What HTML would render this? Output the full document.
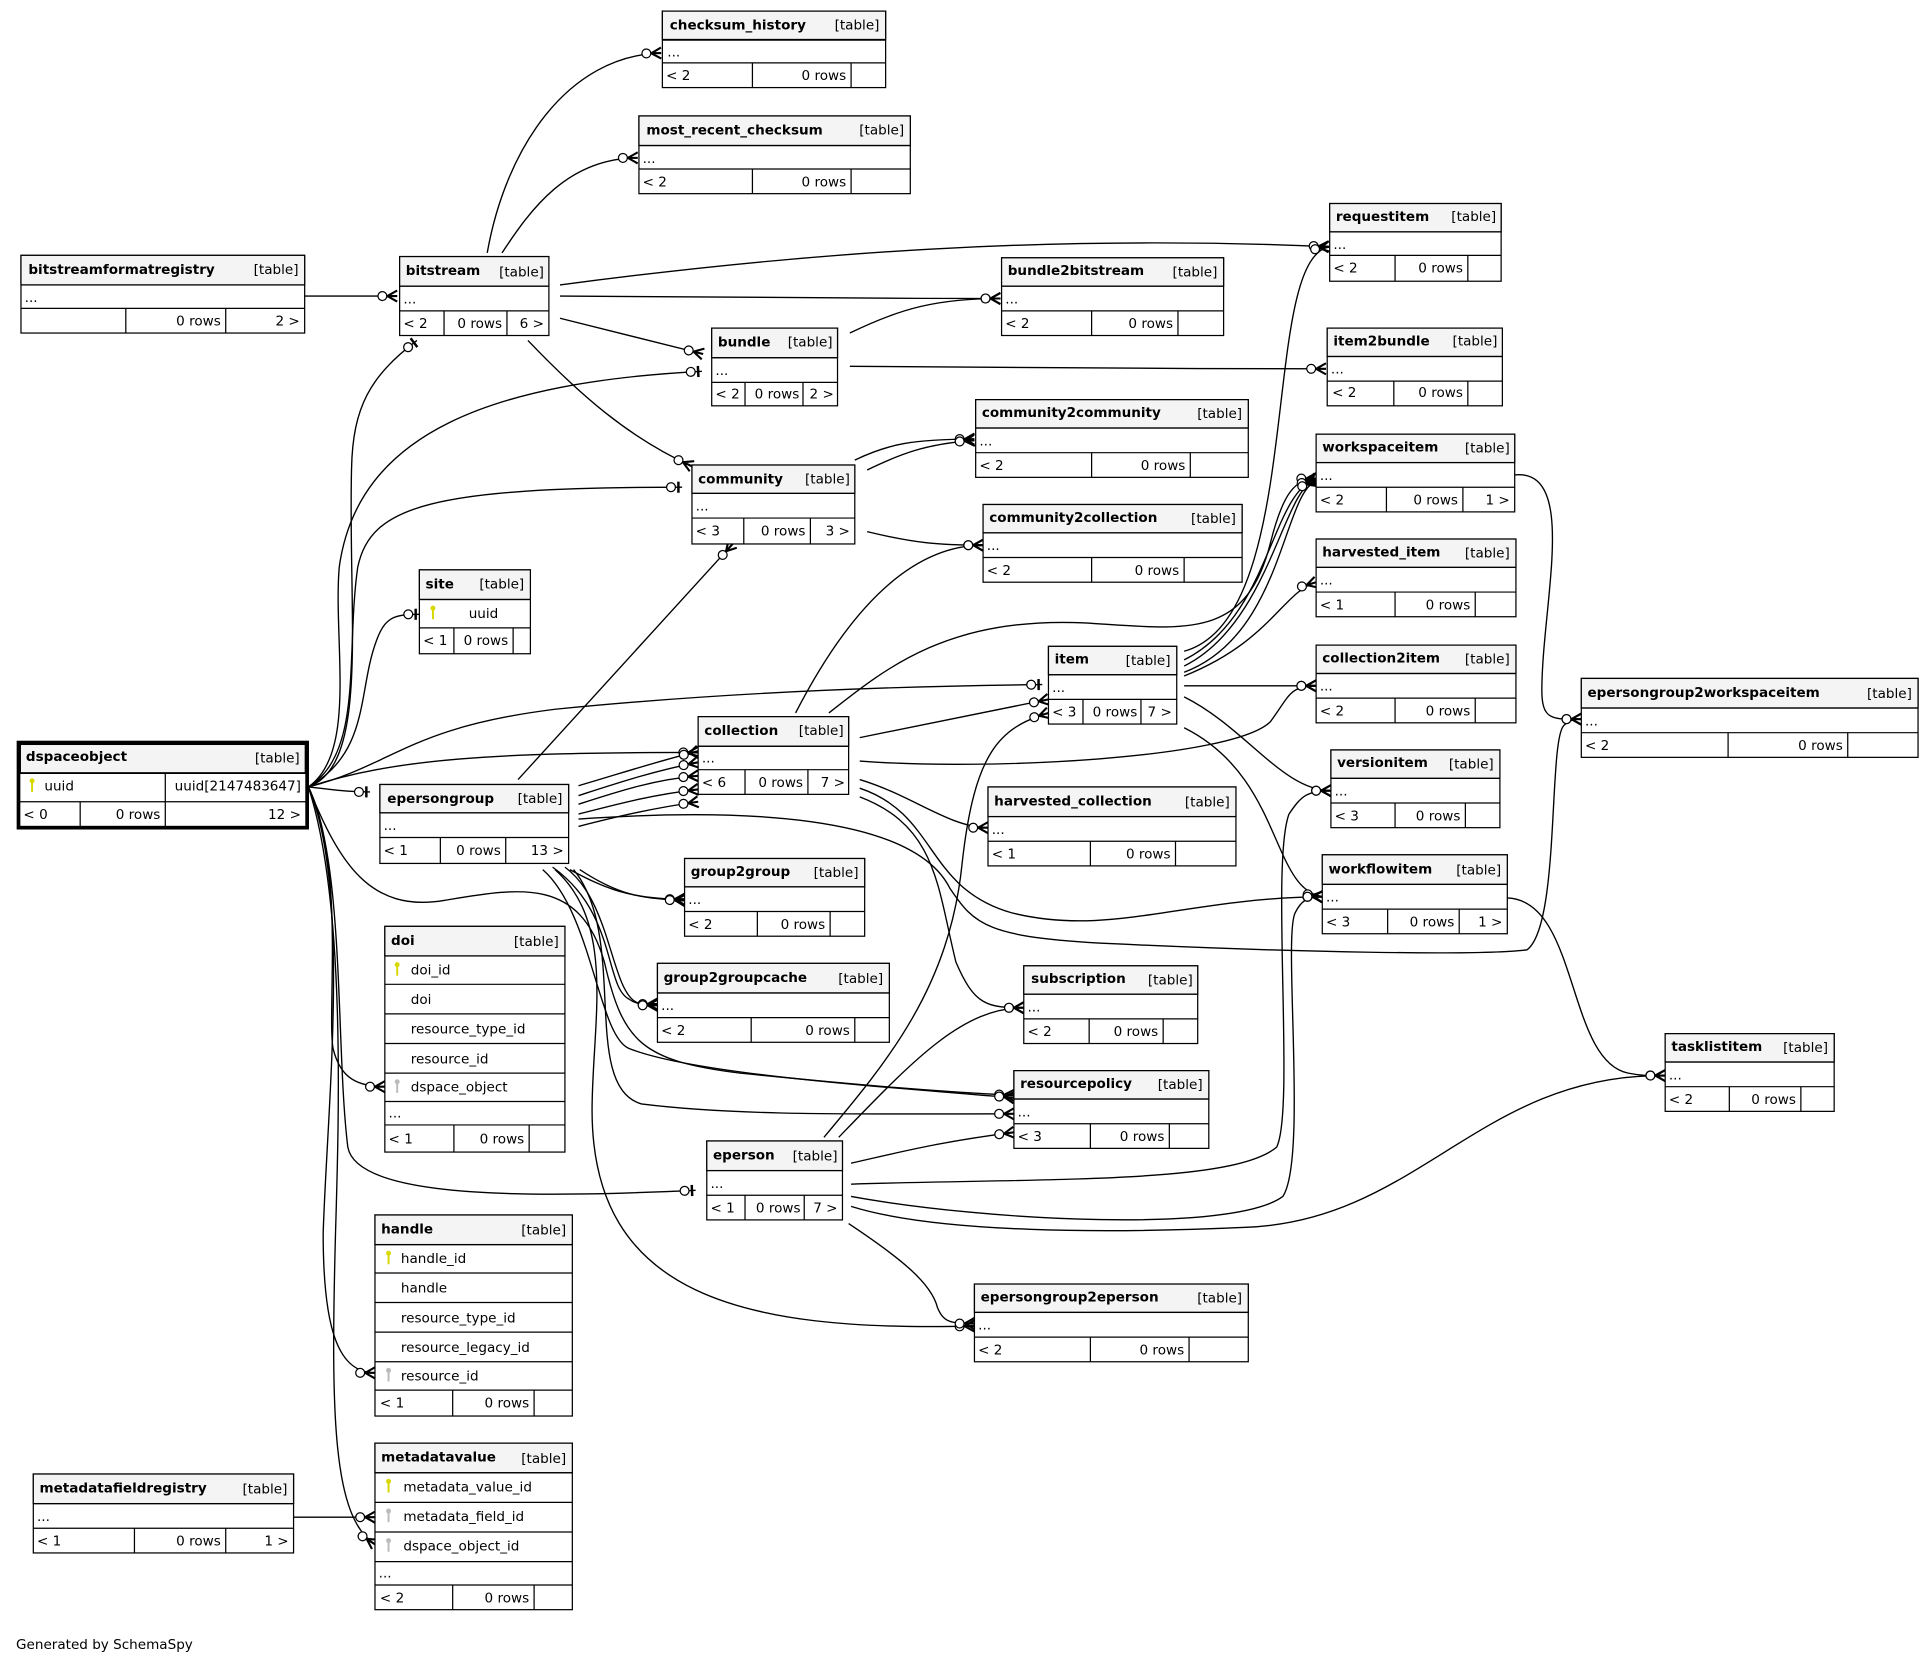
<!DOCTYPE html>
<html><head><meta charset="utf-8"><style>
html,body{margin:0;padding:0;background:#fff}
svg{display:block}
text{font-family:"DejaVu Sans","Liberation Sans",sans-serif;font-size:11px;fill:#000}
.t{font-weight:bold}
.b{fill:#fff;stroke:#000;stroke-width:1}
.h{fill:#f4f4f4;stroke:#000;stroke-width:1}
.l{fill:none;stroke:#000;stroke-width:1}
.e{fill:none;stroke:#000;stroke-width:1.1}
.m{marker-end:url(#mm)}
.o{marker-end:url(#oo)}
</style></head><body>
<svg width="1931" height="1661" viewBox="0 0 1565.5 1346.6" xmlns="http://www.w3.org/2000/svg">
<defs>
<marker id="mm" viewBox="-18 -7 20 14" refX="0" refY="0" markerWidth="20" markerHeight="14" orient="auto" markerUnits="userSpaceOnUse">
<path d="M-8,0 L0,-4.5 M-8,0 L0,0 M-8,0 L0,4.5" stroke="#000" stroke-width="1.7" fill="none"/>
<circle cx="-12" cy="0" r="3.6" fill="#fff" stroke="#000" stroke-width="1"/>
</marker>
<marker id="oo" viewBox="-18 -7 20 14" refX="0" refY="0" markerWidth="20" markerHeight="14" orient="auto" markerUnits="userSpaceOnUse">
<path d="M-3,-4.5 L-3,4.5" stroke="#000" stroke-width="2"/>
<circle cx="-9" cy="0" r="3.6" fill="#fff" stroke="#000" stroke-width="1"/>
</marker>
<g id="ky"><circle cx="0" cy="-3" r="2" /><rect x="-0.8" y="-3" width="1.6" height="9"/></g>
</defs>
<rect width="1565.5" height="1346.6" fill="#fff"/>

<g class="e">
<path class="m" d="M395,205 C410,120 460,45 536,43"/>
<path class="m" d="M407,205 C430,170 460,128 517,128"/>
<path class="m" d="M247,240 L322,240"/>
<path class="m" d="M454,231 C650,205 850,190 1077,200"/>
<path class="m" d="M454,240 C600,241 700,242 811,242"/>
<path class="m" d="M454,258 L570,287"/>
<path class="m" d="M428,276 C470,320 510,355 561,378"/>
<path class="o" d="M250,638 C300,620 282,500 285,380 C286,330 300,305 338,276"/>
<path class="o" d="M250,638 C290,610 270,520 275,460 C290,350 400,310 569,301"/>
<path class="o" d="M250,638 C295,610 280,530 290,460 C300,410 350,395 553,395"/>
<path class="o" d="M250,638 C300,610 290,560 305,520 C312,500 320,498 340,498"/>
<path class="o" d="M250,638 C320,620 330,590 450,575 C600,560 750,556 845,555"/>
<path class="m" d="M250,638 C320,615 400,610 566,610"/>
<path class="o" d="M250,638 C270,640 280,642 300,642"/>
<path class="m" d="M250,638 C280,700 265,820 270,850 C275,870 285,881 312,881"/>
<path class="o" d="M250,638 C280,700 272,850 282,930 C290,975 450,970 564,965"/>
<path class="m" d="M250,638 C285,720 265,900 262,1000 C262,1080 275,1113 304,1113"/>
<path class="m" d="M250,638 C280,730 275,900 272,1000 C268,1150 270,1230 304,1252"/>
<path class="m" d="M250,638 C275,700 300,740 360,730 C420,720 470,710 490,780 C505,845 520,860 600,870 C700,880 760,885 822,888"/>
<path class="m" d="M238,1230 L304,1230"/>
<path class="m" d="M689,270 C730,250 760,242 811,242"/>
<path class="m" d="M689,297 C850,298 950,299 1075,299"/>
<path class="m" d="M693,373 C720,360 740,356 790,356"/>
<path class="m" d="M703,381 C730,368 750,360 790,357"/>
<path class="m" d="M703,431 C740,440 760,442 797,442"/>
<path class="m" d="M420,632 L594,441"/>
<path class="m" d="M645,578 C680,510 730,442 797,442"/>
<path class="m" d="M672,578 C720,540 770,500 880,505 C960,510 1010,520 1030,440 C1040,400 1050,388 1067,388"/>
<path class="m" d="M697,598 L850,567"/>
<path class="m" d="M697,617 C800,625 1000,615 1030,585 C1045,565 1045,556 1067,556"/>
<path class="m" d="M697,632 C740,645 770,671 801,671"/>
<path class="m" d="M697,646 C760,670 760,720 775,780 C790,815 800,817 830,817"/>
<path class="m" d="M697,639 C760,660 750,720 820,740 C900,760 960,728 1072,727"/>
<path class="m" d="M469,637 C500,628 530,618 566,609"/>
<path class="m" d="M469,645 C500,635 530,625 566,618"/>
<path class="m" d="M469,652 C500,642 530,632 566,629"/>
<path class="m" d="M469,660 C500,652 530,644 566,640"/>
<path class="m" d="M469,670 C500,662 530,655 566,650"/>
<path class="m" d="M469,664 C600,655 740,660 770,720 C790,750 800,760 900,765 C1050,772 1200,775 1238,770 C1265,750 1255,600 1268,588 C1272,584 1276,583 1282,583"/>
<path class="m" d="M462,705 C490,720 510,729 555,729"/>
<path class="m" d="M470,705 C500,725 520,729 555,730"/>
<path class="m" d="M448,703 C500,740 490,800 510,810 C515,814 520,814 533,814"/>
<path class="m" d="M458,703 C495,730 495,800 515,812 C520,815 525,815 533,815"/>
<path class="m" d="M440,705 C480,740 485,840 510,850 C560,870 700,880 822,890"/>
<path class="m" d="M465,705 C510,760 470,880 520,895 C600,905 700,903 822,903"/>
<path class="m" d="M450,705 C500,750 480,830 480,900 C480,1050 600,1080 790,1075"/>
<path class="m" d="M960,528 C1060,500 1020,210 1078,200"/>
<path class="m" d="M960,535 C1030,500 1030,400 1067,388"/>
<path class="m" d="M960,540 C1030,505 1040,395 1067,389"/>
<path class="m" d="M960,545 C1040,515 1040,400 1067,390"/>
<path class="m" d="M960,548 C1030,520 1040,480 1067,472"/>
<path class="m" d="M960,556 C1000,556 1030,556 1067,556"/>
<path class="m" d="M960,565 C1010,590 1040,641 1079,641"/>
<path class="m" d="M960,590 C1040,630 1030,720 1072,727"/>
<path class="m" d="M668,922 C720,860 770,800 780,700 C790,610 810,590 850,578"/>
<path class="m" d="M680,922 C740,860 780,817 830,817"/>
<path class="m" d="M690,943 C730,934 760,926 822,918"/>
<path class="m" d="M690,960 C850,955 1000,960 1035,930 C1050,900 1030,700 1045,660 C1055,645 1060,641 1079,641"/>
<path class="m" d="M690,970 C800,990 1000,1000 1040,970 C1060,940 1040,760 1050,740 C1055,730 1060,727 1072,727"/>
<path class="m" d="M690,978 C760,1000 900,1000 1010,995 C1150,990 1200,870 1350,872"/>
<path class="m" d="M688,992 C730,1020 755,1040 760,1060 C765,1072 770,1073 790,1073"/>
<path class="m" d="M1228,385 C1280,380 1250,490 1250,560 C1250,585 1260,583 1282,583"/>
<path class="m" d="M1222,728 C1280,730 1270,860 1320,870 C1330,872 1335,872 1350,872"/>
</g>

<g>
<rect class="b" x="537" y="9" width="181" height="62"/><rect class="h" x="537" y="9" width="181" height="23"/>
<path class="l" d="M537,32.5H718M537,51H718M610,51V71M690,51V71" stroke-width="1.5"/>
<text x="543" y="24" class="t">checksum_history</text><text x="713" y="24" text-anchor="end">[table]</text>
<text x="541" y="46">...</text><text x="540" y="65">&lt; 2</text><text x="686" y="65" text-anchor="end">0 rows</text>

<rect class="b" x="518" y="94" width="220" height="63"/><rect class="h" x="518" y="94" width="220" height="24"/>
<path class="l" d="M518,118H738M518,137H738M610,137V157M690,137V157"/>
<text x="524" y="109" class="t">most_recent_checksum</text><text x="733" y="109" text-anchor="end">[table]</text>
<text x="521" y="132">...</text><text x="521" y="151">&lt; 2</text><text x="686" y="151" text-anchor="end">0 rows</text>

<rect class="b" x="17" y="207" width="230" height="63"/><rect class="h" x="17" y="207" width="230" height="24"/>
<path class="l" d="M17,231H247M17,250H247M102,250V270M183,250V270"/>
<text x="23" y="222" class="t">bitstreamformatregistry</text><text x="242" y="222" text-anchor="end">[table]</text>
<text x="20" y="245">...</text><text x="179" y="264" text-anchor="end">0 rows</text><text x="243" y="264" text-anchor="end">2 &gt;</text>

<rect class="b" x="324" y="208" width="121" height="64"/><rect class="h" x="324" y="208" width="121" height="24"/>
<path class="l" d="M324,232H445M324,252H445M360,252V272M411,252V272"/>
<text x="329" y="223" class="t">bitstream</text><text x="441" y="224" text-anchor="end">[table]</text>
<text x="327" y="246">...</text><text x="327" y="266">&lt; 2</text><text x="407" y="266" text-anchor="end">0 rows</text><text x="441" y="266" text-anchor="end">6 &gt;</text>

<rect class="b" x="1078" y="165" width="139" height="63"/><rect class="h" x="1078" y="165" width="139" height="23"/>
<path class="l" d="M1078,188H1217M1078,207H1217M1131,207V228M1190,207V228"/>
<text x="1083" y="179" class="t">requestitem</text><text x="1213" y="179" text-anchor="end">[table]</text>
<text x="1081" y="202">...</text><text x="1081" y="221">&lt; 2</text><text x="1186" y="221" text-anchor="end">0 rows</text>

<rect class="b" x="812" y="209" width="180" height="63"/><rect class="h" x="812" y="209" width="180" height="23"/>
<path class="l" d="M812,232H992M812,252H992M885,252V272M955,252V272"/>
<text x="817" y="223" class="t">bundle2bitstream</text><text x="987" y="224" text-anchor="end">[table]</text>
<text x="815" y="246">...</text><text x="815" y="266">&lt; 2</text><text x="951" y="266" text-anchor="end">0 rows</text>

<rect class="b" x="577" y="266" width="102" height="63"/><rect class="h" x="577" y="266" width="102" height="24"/>
<path class="l" d="M577,290H679M577,310H679M604,310V329M651,310V329"/>
<text x="582" y="281" class="t">bundle</text><text x="675" y="281" text-anchor="end">[table]</text>
<text x="580" y="304">...</text><text x="580" y="323">&lt; 2</text><text x="648" y="323" text-anchor="end">0 rows</text><text x="676" y="323" text-anchor="end">2 &gt;</text>

<rect class="b" x="1076" y="266" width="142" height="63"/><rect class="h" x="1076" y="266" width="142" height="23"/>
<path class="l" d="M1076,289H1218M1076,309H1218M1130,309V329M1190,309V329"/>
<text x="1081" y="280" class="t">item2bundle</text><text x="1214" y="280" text-anchor="end">[table]</text>
<text x="1079" y="303">...</text><text x="1080" y="322">&lt; 2</text><text x="1186" y="322" text-anchor="end">0 rows</text>

<rect class="b" x="791" y="324" width="221" height="63"/><rect class="h" x="791" y="324" width="221" height="23"/>
<path class="l" d="M791,347H1012M791,367H1012M885,367V387M965,367V387"/>
<text x="796" y="338" class="t">community2community</text><text x="1007" y="339" text-anchor="end">[table]</text>
<text x="794" y="361">...</text><text x="794" y="381">&lt; 2</text><text x="961" y="381" text-anchor="end">0 rows</text>

<rect class="b" x="561" y="377" width="132" height="64"/><rect class="h" x="561" y="377" width="132" height="23"/>
<path class="l" d="M561,400H693M561,420H693M603,420V441M657,420V441"/>
<text x="566" y="392" class="t">community</text><text x="689" y="392" text-anchor="end">[table]</text>
<text x="564" y="414">...</text><text x="564" y="434">&lt; 3</text><text x="653" y="434" text-anchor="end">0 rows</text><text x="689" y="434" text-anchor="end">3 &gt;</text>

<rect class="b" x="1067" y="352" width="161" height="63"/><rect class="h" x="1067" y="352" width="161" height="23"/>
<path class="l" d="M1067,375H1228M1067,395H1228M1124,395V415M1186,395V415"/>
<text x="1072" y="366" class="t">workspaceitem</text><text x="1224" y="367" text-anchor="end">[table]</text>
<text x="1070" y="389">...</text><text x="1070" y="409">&lt; 2</text><text x="1182" y="409" text-anchor="end">0 rows</text><text x="1224" y="409" text-anchor="end">1 &gt;</text>

<rect class="b" x="797" y="409" width="210" height="63"/><rect class="h" x="797" y="409" width="210" height="23"/>
<path class="l" d="M797,432H1007M797,452H1007M885,452V472M960,452V472"/>
<text x="802" y="423" class="t">community2collection</text><text x="1002" y="424" text-anchor="end">[table]</text>
<text x="800" y="446">...</text><text x="800" y="466">&lt; 2</text><text x="956" y="466" text-anchor="end">0 rows</text>

<rect class="b" x="1067" y="437" width="162" height="63"/><rect class="h" x="1067" y="437" width="162" height="23"/>
<path class="l" d="M1067,460H1229M1067,480H1229M1131,480V500M1196,480V500"/>
<text x="1072" y="451" class="t">harvested_item</text><text x="1224" y="452" text-anchor="end">[table]</text>
<text x="1070" y="474">...</text><text x="1070" y="494">&lt; 1</text><text x="1192" y="494" text-anchor="end">0 rows</text>

<rect class="b" x="340" y="462" width="90" height="68"/><rect class="h" x="340" y="462" width="90" height="24"/>
<path class="l" d="M340,486H430M340,509H430M368,509V530M416,509V530"/>
<text x="345" y="477" class="t">site</text><text x="425" y="477" text-anchor="end">[table]</text>
<use href="#ky" x="351" y="496" fill="#d8d800"/><text x="380" y="501">uuid</text>
<text x="343" y="523">&lt; 1</text><text x="412" y="523" text-anchor="end">0 rows</text>

<rect class="b" x="850" y="524" width="104" height="63"/><rect class="h" x="850" y="524" width="104" height="23"/>
<path class="l" d="M850,547H954M850,567H954M878,567V587M925,567V587"/>
<text x="855" y="538" class="t">item</text><text x="949" y="539" text-anchor="end">[table]</text>
<text x="853" y="561">...</text><text x="853" y="581">&lt; 3</text><text x="922" y="581" text-anchor="end">0 rows</text><text x="950" y="581" text-anchor="end">7 &gt;</text>

<rect class="b" x="1067" y="523" width="162" height="63"/><rect class="h" x="1067" y="523" width="162" height="23"/>
<path class="l" d="M1067,546H1229M1067,566H1229M1131,566V586M1196,566V586"/>
<text x="1072" y="537" class="t">collection2item</text><text x="1224" y="538" text-anchor="end">[table]</text>
<text x="1070" y="560">...</text><text x="1070" y="580">&lt; 2</text><text x="1192" y="580" text-anchor="end">0 rows</text>

<rect class="b" x="1282" y="550" width="273" height="64"/><rect class="h" x="1282" y="550" width="273" height="24"/>
<path class="l" d="M1282,574H1555M1282,594H1555M1401,594V614M1498,594V614"/>
<text x="1287" y="565" class="t">epersongroup2workspaceitem</text><text x="1550" y="566" text-anchor="end">[table]</text>
<text x="1285" y="588">...</text><text x="1285" y="608">&lt; 2</text><text x="1494" y="608" text-anchor="end">0 rows</text>

<rect class="b" x="566" y="581" width="122" height="63"/><rect class="h" x="566" y="581" width="122" height="24"/>
<path class="l" d="M566,605H688M566,624H688M604,624V644M655,624V644"/>
<text x="571" y="596" class="t">collection</text><text x="684" y="596" text-anchor="end">[table]</text>
<text x="569" y="618">...</text><text x="569" y="638">&lt; 6</text><text x="651" y="638" text-anchor="end">0 rows</text><text x="685" y="638" text-anchor="end">7 &gt;</text>

<rect class="b" x="15" y="602" width="234" height="69" style="stroke-width:3"/>
<rect class="h" x="16.5" y="603.5" width="231" height="23"/>
<path class="l" d="M16,627H248M16,650H248M134,627V650M65,650V670M134,650V670"/>
<text x="21" y="617" class="t">dspaceobject</text><text x="243" y="618" text-anchor="end">[table]</text>
<use href="#ky" x="26" y="636" fill="#d8d800"/><text x="36" y="641">uuid</text><text x="244" y="641" text-anchor="end">uuid[2147483647]</text>
<text x="19" y="664">&lt; 0</text><text x="130" y="664" text-anchor="end">0 rows</text><text x="244" y="664" text-anchor="end">12 &gt;</text>

<rect class="b" x="308" y="636" width="153" height="64"/><rect class="h" x="308" y="636" width="153" height="23"/>
<path class="l" d="M308,659H461M308,679H461M357,679V700M410,679V700"/>
<text x="314" y="651" class="t">epersongroup</text><text x="456" y="651" text-anchor="end">[table]</text>
<text x="311" y="673">...</text><text x="311" y="693">&lt; 1</text><text x="406" y="693" text-anchor="end">0 rows</text><text x="457" y="693" text-anchor="end">13 &gt;</text>

<rect class="b" x="1079" y="608" width="137" height="63"/><rect class="h" x="1079" y="608" width="137" height="23"/>
<path class="l" d="M1079,631H1216M1079,651H1216M1131,651V671M1188,651V671"/>
<text x="1084" y="622" class="t">versionitem</text><text x="1211" y="623" text-anchor="end">[table]</text>
<text x="1082" y="645">...</text><text x="1082" y="665">&lt; 3</text><text x="1184" y="665" text-anchor="end">0 rows</text>

<rect class="b" x="801" y="638" width="201" height="64"/><rect class="h" x="801" y="638" width="201" height="24"/>
<path class="l" d="M801,662H1002M801,682H1002M884,682V702M953,682V702"/>
<text x="806" y="653" class="t">harvested_collection</text><text x="997" y="654" text-anchor="end">[table]</text>
<text x="804" y="676">...</text><text x="804" y="696">&lt; 1</text><text x="949" y="696" text-anchor="end">0 rows</text>

<rect class="b" x="1072" y="693" width="150" height="64"/><rect class="h" x="1072" y="693" width="150" height="24"/>
<path class="l" d="M1072,717H1222M1072,737H1222M1125,737V757M1183,737V757"/>
<text x="1077" y="708" class="t">workflowitem</text><text x="1217" y="709" text-anchor="end">[table]</text>
<text x="1075" y="731">...</text><text x="1075" y="751">&lt; 3</text><text x="1179" y="751" text-anchor="end">0 rows</text><text x="1218" y="751" text-anchor="end">1 &gt;</text>

<rect class="b" x="555" y="696" width="146" height="63"/><rect class="h" x="555" y="696" width="146" height="23"/>
<path class="l" d="M555,719H701M555,739H701M614,739V759M673,739V759"/>
<text x="560" y="710" class="t">group2group</text><text x="696" y="711" text-anchor="end">[table]</text>
<text x="558" y="733">...</text><text x="558" y="753">&lt; 2</text><text x="669" y="753" text-anchor="end">0 rows</text>

<rect class="b" x="312" y="751" width="146" height="183"/><rect class="h" x="312" y="751" width="146" height="24"/>
<path class="l" d="M312,775H458M312,798H458M312,822H458M312,846H458M312,870H458M312,893H458M312,912H458M368,912V934M429,912V934"/>
<text x="317" y="766" class="t">doi</text><text x="453" y="767" text-anchor="end">[table]</text>
<use href="#ky" x="322" y="785" fill="#d8d800"/><text x="333" y="790">doi_id</text>
<text x="333" y="814">doi</text><text x="333" y="838">resource_type_id</text><text x="333" y="862">resource_id</text>
<use href="#ky" x="322" y="880" fill="#bbb"/><text x="333" y="885">dspace_object</text>
<text x="315" y="906">...</text><text x="315" y="927">&lt; 1</text><text x="425" y="927" text-anchor="end">0 rows</text>

<rect class="b" x="533" y="781" width="188" height="64"/><rect class="h" x="533" y="781" width="188" height="24"/>
<path class="l" d="M533,805H721M533,825H721M609,825V845M693,825V845"/>
<text x="538" y="796" class="t">group2groupcache</text><text x="716" y="797" text-anchor="end">[table]</text>
<text x="536" y="819">...</text><text x="536" y="839">&lt; 2</text><text x="689" y="839" text-anchor="end">0 rows</text>

<rect class="b" x="830" y="783" width="141" height="63"/><rect class="h" x="830" y="783" width="141" height="23"/>
<path class="l" d="M830,806H971M830,826H971M883,826V846M943,826V846"/>
<text x="836" y="797" class="t">subscription</text><text x="967" y="798" text-anchor="end">[table]</text>
<text x="833" y="820">...</text><text x="833" y="840">&lt; 2</text><text x="939" y="840" text-anchor="end">0 rows</text>

<rect class="b" x="1350" y="838" width="137" height="63"/><rect class="h" x="1350" y="838" width="137" height="23"/>
<path class="l" d="M1350,861H1487M1350,881H1487M1402,881V901M1460,881V901"/>
<text x="1355" y="852" class="t">tasklistitem</text><text x="1482" y="853" text-anchor="end">[table]</text>
<text x="1353" y="875">...</text><text x="1353" y="895">&lt; 2</text><text x="1456" y="895" text-anchor="end">0 rows</text>

<rect class="b" x="822" y="868" width="158" height="63"/><rect class="h" x="822" y="868" width="158" height="23"/>
<path class="l" d="M822,891H980M822,911H980M884,911V931M948,911V931"/>
<text x="827" y="882" class="t">resourcepolicy</text><text x="975" y="883" text-anchor="end">[table]</text>
<text x="825" y="905">...</text><text x="825" y="925">&lt; 3</text><text x="944" y="925" text-anchor="end">0 rows</text>

<rect class="b" x="573" y="925" width="110" height="64"/><rect class="h" x="573" y="925" width="110" height="24"/>
<path class="l" d="M573,949H683M573,969H683M604,969V989M652,969V989"/>
<text x="578" y="940" class="t">eperson</text><text x="679" y="941" text-anchor="end">[table]</text>
<text x="576" y="963">...</text><text x="576" y="983">&lt; 1</text><text x="649" y="983" text-anchor="end">0 rows</text><text x="679" y="983" text-anchor="end">7 &gt;</text>

<rect class="b" x="304" y="985" width="160" height="163"/><rect class="h" x="304" y="985" width="160" height="24"/>
<path class="l" d="M304,1009H464M304,1032H464M304,1056H464M304,1080H464M304,1104H464M304,1127H464M367,1127V1148M433,1127V1148"/>
<text x="309" y="1000" class="t">handle</text><text x="459" y="1001" text-anchor="end">[table]</text>
<use href="#ky" x="315" y="1019" fill="#d8d800"/><text x="325" y="1024">handle_id</text>
<text x="325" y="1048">handle</text><text x="325" y="1072">resource_type_id</text><text x="325" y="1096">resource_legacy_id</text>
<use href="#ky" x="315" y="1114" fill="#bbb"/><text x="325" y="1119">resource_id</text>
<text x="308" y="1141">&lt; 1</text><text x="429" y="1141" text-anchor="end">0 rows</text>

<rect class="b" x="790" y="1041" width="222" height="63"/><rect class="h" x="790" y="1041" width="222" height="23"/>
<path class="l" d="M790,1064H1012M790,1084H1012M884,1084V1104M964,1084V1104"/>
<text x="795" y="1055" class="t">epersongroup2eperson</text><text x="1007" y="1056" text-anchor="end">[table]</text>
<text x="793" y="1078">...</text><text x="793" y="1098">&lt; 2</text><text x="960" y="1098" text-anchor="end">0 rows</text>

<rect class="b" x="304" y="1170" width="160" height="135"/><rect class="h" x="304" y="1170" width="160" height="24"/>
<path class="l" d="M304,1194H464M304,1218H464M304,1242H464M304,1266H464M304,1285H464M367,1285V1305M433,1285V1305"/>
<text x="309" y="1185" class="t">metadatavalue</text><text x="459" y="1186" text-anchor="end">[table]</text>
<use href="#ky" x="315" y="1204" fill="#d8d800"/><text x="327" y="1209">metadata_value_id</text>
<use href="#ky" x="315" y="1228" fill="#bbb"/><text x="327" y="1233">metadata_field_id</text>
<use href="#ky" x="315" y="1252" fill="#bbb"/><text x="327" y="1257">dspace_object_id</text>
<text x="307" y="1279">...</text><text x="308" y="1299">&lt; 2</text><text x="429" y="1299" text-anchor="end">0 rows</text>

<rect class="b" x="27" y="1195" width="211" height="64"/><rect class="h" x="27" y="1195" width="211" height="24"/>
<path class="l" d="M27,1219H238M27,1239H238M109,1239V1259M183,1239V1259"/>
<text x="32" y="1210" class="t">metadatafieldregistry</text><text x="233" y="1211" text-anchor="end">[table]</text>
<text x="30" y="1233">...</text><text x="30" y="1253">&lt; 1</text><text x="179" y="1253" text-anchor="end">0 rows</text><text x="234" y="1253" text-anchor="end">1 &gt;</text>
</g>

<text x="13" y="1337">Generated by SchemaSpy</text>
</svg>
</body></html>
